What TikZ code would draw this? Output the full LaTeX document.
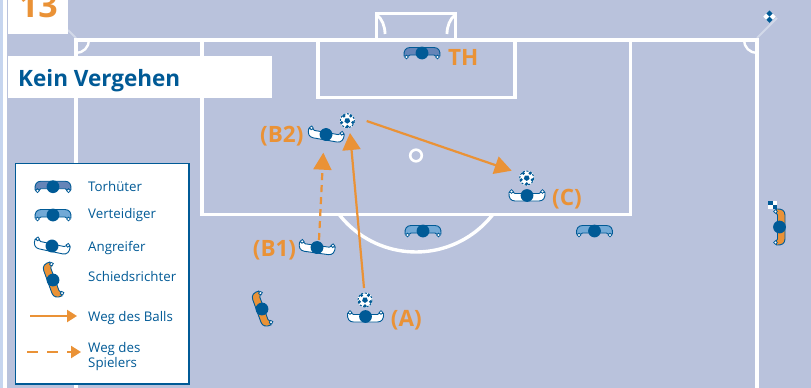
\documentclass[tikz,border=0pt]{standalone}
\usepackage{fontspec}
\setmainfont{Open Sans}
\usetikzlibrary{arrows.meta}
\definecolor{fieldbg}{HTML}{B9C2DC}
\definecolor{stripbg}{HTML}{C6D5EF}
\definecolor{palegrey}{HTML}{D2D9E9}
\definecolor{dfbblue}{HTML}{005A96}
\definecolor{dfborange}{HTML}{EA9236}
\definecolor{keeperblue}{HTML}{6585B8}
\definecolor{defendblue}{HTML}{72A9D6}
\tikzset{
    whiteline/.style={draw=white,line width=3.4pt},
    ballpath/.style={draw=dfborange,line width=2.2pt,-{Triangle[length=17pt,width=18pt]}},
    runpath/.style={ballpath,dash pattern=on 7pt off 5pt},
    legendball/.style={draw=dfborange,line width=2.2pt,-{Triangle[length=10pt,width=12pt]}},
    legendrun/.style={legendball,dash pattern=on 11pt off 9pt},
    callout/.style={text=dfborange,font=\fontsize{22.5}{22}\selectfont\bfseries,anchor=base west,inner sep=0pt},
    legendtext/.style={text=dfbblue,font=\fontsize{13.3}{12.7}\selectfont,anchor=base west,inner sep=0pt,align=left},
    pics/player/.style={code={
        \draw[dfbblue,line width=0.9pt,fill=#1] (-18,3) .. controls (-18.5,-2) and (-16.5,-5.5) .. (-12,-5.5) -- (12,-5.5)
            .. controls (16.5,-5.5) and (18.5,-2) .. (18,3) -- (13.5,3) -- (12,2) -- (-12,2) -- (-13.5,3) -- cycle;
        \draw[dfbblue,line width=0.8pt,fill=white] (-15.5,4) circle (1.9);
        \draw[dfbblue,line width=0.8pt,fill=white] (15.5,4) circle (1.9);
        \fill[dfbblue] (0,0) circle (6.4);
    }},
    pics/soccerball/.style={code={
        \fill[white] (0,0) circle (7.6);
        \draw[dfbblue,line width=1pt,dash pattern=on 2.2pt off 1.4pt] (0,0) circle (7);
        \fill[dfbblue] (90:3) -- (162:3) -- (234:3) -- (306:3) -- (18:3) -- cycle;
        \foreach \a in {18,90,162,234,306}
            \fill[dfbblue] (\a:5.8) circle (1.7);
    }},
    pics/checkflag/.style={code={
        \fill[white] (-4.4,-4.4) rectangle (4.4,4.4);
        \fill[dfbblue] (-4.4,-4.4) rectangle (0,0);
        \fill[dfbblue] (0,0) rectangle (4.4,4.4);
    }},
}
\begin{document}
\begin{tikzpicture}[x=1pt,y=-1pt]
    \clip (0,0) rectangle (811,388);
    \fill[fieldbg] (0,0) rectangle (811,388);
    \fill[white] (0,0) rectangle (7,388);
    \fill[stripbg] (0,0) rectangle (3,388);
    %% Pitch
    \draw[palegrey,line width=2pt] (68,30) -- (76,38);
    \draw[palegrey,line width=2pt] (757,38) -- (777,18);
    \draw[whiteline] (76,388) -- (76,40) -- (757,40) -- (757,388);
    \draw[whiteline] (202,40) -- (202,214.5) -- (630.5,214.5) -- (630.5,40);
    \draw[whiteline] (318,40) -- (318,97.5) -- (515,97.5) -- (515,40);
    \draw[whiteline] (376.5,40) -- (376.5,13.5) -- (455.5,13.5) -- (455.5,40);
    \draw[white,line width=2.8pt] (377,15) .. controls (382,19) and (385,26) .. (385,34);
    \draw[white,line width=2.8pt] (455,15) .. controls (450,19) and (447,26) .. (447,34);
    \draw[white,line width=2.4pt] (89,40) arc (0:90:13);
    \draw[white,line width=2.4pt] (744,40) arc (180:90:13);
    \draw[whiteline] (492.8,214.5) arc (38:142:97.5);
    \draw[white,line width=2.6pt] (416,155.5) circle (5.8);
    %% Flags
    \pic[rotate=-45] at (769.5,16.7) {checkflag};
    \pic at (772.5,205) {checkflag};
    %% Boxes
    \fill[white] (7.5,0) rectangle (68,34);
    \node[callout,anchor=base east,font=\fontsize{34}{34}\selectfont\bfseries] (number) at (58,17) {13};
    \fill[white] (7.5,56) rectangle (272,98);
    \node[callout,text=dfbblue,font=\fontsize{22.5}{24}\selectfont\bfseries] (title) at (18,86) {Kein Vergehen};
    \draw[dfbblue,fill=white,line width=1.6pt] (15.5,163.5) rectangle (189,384);
    %% Players
    \foreach \x/\y in {422/53}
        \pic at (\x,\y) {player=keeperblue};
    \foreach \x/\y in {423/231,594.5/231}
        \pic at (\x,\y) {player=defendblue};
    \foreach \x/\y/\r in {326/134.5/-10,317/247.5/-8,365.5/316.5/0,527/195.5/0}
        \pic[rotate=\r,yscale=-1] at (\x,\y) {player=white};
    \foreach \x/\y/\r in {262/309/110,779.5/227/-90}
        \pic[rotate=\r] at (\x,\y) {player=dfborange};
    %% Balls
    \foreach \x/\y in {347.3/120.7,365/300,526.7/178}
        \pic at (\x,\y) {soccerball};
    %% Paths
    \coordinate (startA) at (364,288);
    \coordinate (tipA) at (350,133);
    \coordinate (startB) at (319,240);
    \coordinate (tipB) at (323.3,152.7);
    \coordinate (startC) at (366.7,121);
    \coordinate (tipC) at (511.7,170.7);
    \draw[ballpath] (startA) -- (tipA);
    \draw[ballpath] (startC) -- (tipC);
    \draw[runpath] (startB) -- (tipB);
    %% Labels
    \node[callout] (labelTH) at (448,65) {TH};
    \node[callout] (labelBtwo) at (260,142) {(B2)};
    \node[callout] (labelBone) at (252.7,256) {(B1)};
    \node[callout] (labelA) at (390.7,326.7) {(A)};
    \node[callout] (labelC) at (552,205) {(C)};
    %% Legend
    \pic at (53,186.7) {player=keeperblue};
    \pic at (53,215) {player=defendblue};
    \pic[rotate=-12,yscale=-1] at (52,246) {player=white};
    \pic[rotate=110] at (53,280) {player=dfborange};
    \coordinate (keyballL) at (30,316);
    \coordinate (keyballR) at (77,316);
    \coordinate (keyrunL) at (27,352);
    \coordinate (keyrunR) at (81,352);
    \draw[legendball] (keyballL) -- (keyballR);
    \draw[legendrun] (keyrunL) -- (keyrunR);
    \foreach \y/\t in {191/Torhüter,218.5/Verteidiger,251/Angreifer,281.7/Schiedsrichter,321.7/Weg des Balls}
        \node[legendtext] (key\y) at (88,\y) {\t};
    \node[legendtext] (keyrun) at (88,367) {Weg des\\Spielers};
\end{tikzpicture}
\end{document}
